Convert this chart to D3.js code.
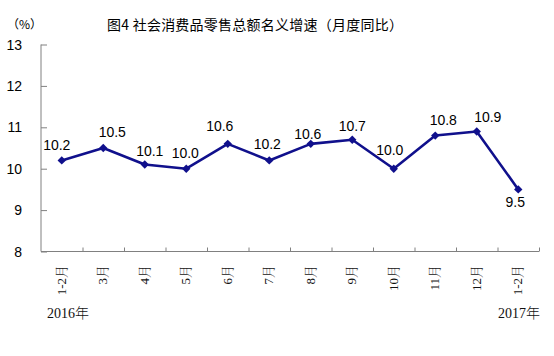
<!DOCTYPE html>
<html><head><meta charset="utf-8">
<script src="https://cdn.jsdelivr.net/npm/d3@7/dist/d3.min.js"></script>
<style>body{margin:0;background:#fff;}svg{display:block;}</style>
</head><body>
<svg id="c" width="554" height="356"></svg>
<script>
const categories = ["1-2月","3月","4月","5月","6月","7月","8月","9月","10月","11月","12月","1-2月"];
const values = [10.2,10.5,10.1,10.0,10.6,10.2,10.6,10.7,10.0,10.8,10.9,9.5];
const yTicks = [8,9,10,11,12,13];
const yearLabels = ["2016年","2017年"];
const title = "图4 社会消费品零售总额名义增速（月度同比）";
const unitLabel = "（%）";
// label offsets (style only)
const labelOffsets = [[-5,-10],[9,-11],[5,-9],[-1,-11],[-8,-13],[-2,-11],[-3,-5],[0,-9],[-4,-14],[8,-11],[11,-9],[-3,18]];

const svg = d3.select("#c");
const pL = 41, pR = 539, pT = 44.5, pB = 251.5;
const x = d3.scaleBand().domain(d3.range(categories.length)).range([pL, pR]);
const y = d3.scaleLinear().domain([8, 13]).range([pB, pT]);
const axisColor = "#808080";
const lineColor = "#10108c";

// title
svg.append("text").attr("x", 107).attr("y", 30).attr("font-family", "'Noto Sans CJK SC', sans-serif")
  .attr("font-size", 14).attr("fill", "#000").attr("textLength", 296).text(title);
svg.append("text").attr("x", 7).attr("y", 29).attr("font-family", "'Noto Sans CJK SC', sans-serif")
  .attr("font-size", 12).attr("fill", "#000").text(unitLabel);

// y axis
const yAxis = d3.axisRight(y).tickValues(yTicks).tickSize(6).tickFormat("");
const gy = svg.append("g").attr("transform", `translate(${pL},0)`).call(yAxis);
gy.select(".domain").attr("stroke", axisColor).attr("d", `M0,${pT}V${pB}`);
gy.selectAll(".tick line").attr("stroke", axisColor);
svg.append("g").selectAll("text").data(yTicks).join("text")
  .attr("x", 22).attr("y", d => y(d) + 5).attr("text-anchor", "end")
  .attr("font-family", "'Liberation Sans', Arial, sans-serif").attr("font-size", 14).attr("fill", "#000")
  .text(d => d);

// x axis
const xLin = d3.scaleLinear().domain([0, categories.length]).range([pL, pR]);
const xAxis = d3.axisTop(xLin).tickValues(d3.range(1, categories.length + 1)).tickSize(4).tickFormat("");
const gx = svg.append("g").attr("transform", `translate(0,${pB})`).call(xAxis);
gx.select(".domain").attr("stroke", axisColor).attr("d", `M${pL},0H${pR}`);
gx.selectAll(".tick line").attr("stroke", axisColor);

// category labels rotated
svg.append("g").selectAll("text").data(categories).join("text")
  .attr("transform", (d, i) => `translate(${x(i) + x.bandwidth() / 2 + 4},265) rotate(-90)`)
  .attr("text-anchor", "end")
  .attr("font-family", "'Liberation Serif', 'Noto Serif CJK SC', 'Noto Sans CJK SC', serif")
  .attr("font-size", 13).attr("font-weight", 300).attr("fill", "#111").text(d => d);

// year labels
svg.append("text").attr("x", 47).attr("y", 318).attr("font-family", "'Liberation Serif', 'Noto Sans CJK SC', serif")
  .attr("font-size", 14).attr("font-weight", 300).attr("fill", "#111").text(yearLabels[0]);
svg.append("text").attr("x", 498).attr("y", 318).attr("font-family", "'Liberation Serif', 'Noto Sans CJK SC', serif")
  .attr("font-size", 14).attr("font-weight", 300).attr("fill", "#111").text(yearLabels[1]);

// line
const line = d3.line().x((d, i) => x(i) + x.bandwidth() / 2).y(d => y(d));
svg.append("path").datum(values).attr("d", line).attr("fill", "none")
  .attr("stroke", lineColor).attr("stroke-width", 2.6).attr("stroke-linejoin", "round");
svg.append("g").selectAll("path").data(values).join("path")
  .attr("d", d3.symbol(d3.symbolDiamond2, 45)())
  .attr("transform", (d, i) => `translate(${x(i) + x.bandwidth() / 2},${y(d)})`)
  .attr("fill", lineColor);

// data labels
svg.append("g").selectAll("text").data(values).join("text")
  .attr("x", (d, i) => x(i) + x.bandwidth() / 2 + labelOffsets[i][0])
  .attr("y", (d, i) => y(d) + labelOffsets[i][1])
  .attr("text-anchor", "middle")
  .attr("font-family", "'Liberation Sans', Arial, sans-serif").attr("font-size", 14).attr("fill", "#000")
  .text(d => d.toFixed(1));
</script>
</body></html>
